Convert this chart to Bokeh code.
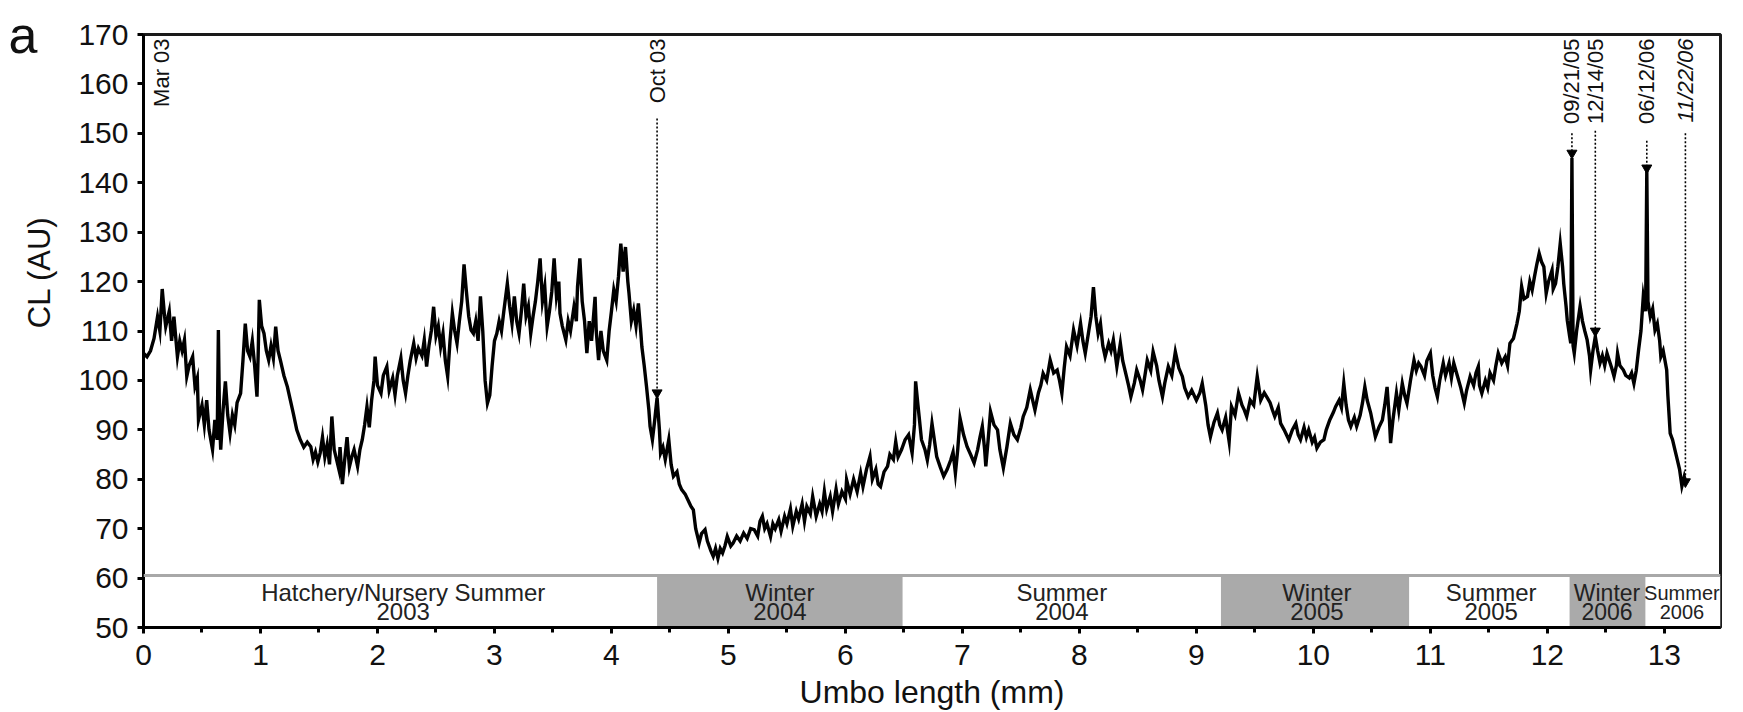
import math
from bokeh.plotting import figure
from bokeh.models import (Range1d, SingleIntervalTicker, FixedTicker, LinearAxis,
                          ColumnDataSource, Span)
from bokeh.core.properties import value
from bokeh.embed import file_html
from bokeh.resources import INLINE

FONT = "Liberation Sans"

# ---------------- data ----------------
umbo_mm = [
    0.00, 0.03, 0.06, 0.09, 0.12, 0.14, 0.16, 0.18, 0.19, 0.22,
    0.24, 0.26, 0.29, 0.31, 0.33, 0.35, 0.37, 0.39, 0.42, 0.44,
    0.46, 0.47, 0.50, 0.52, 0.54, 0.56, 0.59, 0.61, 0.63, 0.64,
    0.65, 0.66, 0.68, 0.70, 0.72, 0.74, 0.76, 0.78, 0.80, 0.83,
    0.85, 0.87, 0.89, 0.91, 0.93, 0.95, 0.97, 0.98, 0.99, 1.01,
    1.03, 1.05, 1.07, 1.09, 1.11, 1.13, 1.15, 1.17, 1.20, 1.23,
    1.26, 1.28, 1.31, 1.34, 1.37, 1.40, 1.43, 1.45, 1.47, 1.49,
    1.51, 1.53, 1.55, 1.57, 1.59, 1.61, 1.63, 1.65, 1.67, 1.68,
    1.70, 1.72, 1.74, 1.76, 1.78, 1.80, 1.83, 1.85, 1.87, 1.89,
    1.91, 1.93, 1.95, 1.97, 1.98, 2.00, 2.03, 2.05, 2.08, 2.10,
    2.13, 2.15, 2.17, 2.20, 2.22, 2.24, 2.26, 2.28, 2.31, 2.33,
    2.35, 2.38, 2.40, 2.42, 2.44, 2.46, 2.48, 2.50, 2.52, 2.54,
    2.56, 2.58, 2.60, 2.62, 2.64, 2.66, 2.68, 2.70, 2.72, 2.74,
    2.76, 2.78, 2.80, 2.82, 2.84, 2.86, 2.88, 2.90, 2.92, 2.94,
    2.96, 2.98, 3.00, 3.02, 3.04, 3.06, 3.08, 3.11, 3.13, 3.15,
    3.17, 3.19, 3.21, 3.23, 3.25, 3.27, 3.29, 3.31, 3.33, 3.35,
    3.37, 3.39, 3.41, 3.43, 3.45, 3.47, 3.49, 3.51, 3.53, 3.55,
    3.56, 3.58, 3.61, 3.63, 3.65, 3.68, 3.70, 3.71, 3.73, 3.75,
    3.77, 3.79, 3.81, 3.83, 3.86, 3.87, 3.89, 3.91, 3.93, 3.96,
    3.98, 4.00, 4.02, 4.04, 4.06, 4.08, 4.10, 4.12, 4.14, 4.15,
    4.17, 4.19, 4.21, 4.23, 4.25, 4.26, 4.28, 4.30, 4.32, 4.33,
    4.35, 4.37, 4.39, 4.41, 4.42, 4.44, 4.46, 4.49, 4.51, 4.53,
    4.56, 4.58, 4.60, 4.63, 4.66, 4.68, 4.70, 4.72, 4.75, 4.77,
    4.80, 4.82, 4.85, 4.87, 4.89, 4.91, 4.93, 4.95, 4.97, 4.99,
    5.02, 5.04, 5.07, 5.10, 5.13, 5.16, 5.19, 5.22, 5.25, 5.27,
    5.29, 5.31, 5.33, 5.36, 5.38, 5.40, 5.43, 5.45, 5.48, 5.50,
    5.53, 5.55, 5.58, 5.60, 5.63, 5.65, 5.67, 5.70, 5.72, 5.75,
    5.78, 5.80, 5.82, 5.84, 5.87, 5.89, 5.92, 5.94, 5.97, 6.00,
    6.01, 6.04, 6.07, 6.10, 6.13, 6.15, 6.18, 6.21, 6.23, 6.26,
    6.28, 6.30, 6.33, 6.36, 6.38, 6.41, 6.43, 6.45, 6.48, 6.51,
    6.54, 6.57, 6.59, 6.60, 6.62, 6.63, 6.65, 6.68, 6.70, 6.72,
    6.74, 6.76, 6.78, 6.81, 6.84, 6.87, 6.90, 6.92, 6.94, 6.96,
    6.98, 7.01, 7.04, 7.07, 7.10, 7.13, 7.15, 7.17, 7.19, 7.20,
    7.22, 7.24, 7.27, 7.30, 7.32, 7.35, 7.38, 7.41, 7.44, 7.47,
    7.50, 7.52, 7.55, 7.58, 7.60, 7.62, 7.65, 7.67, 7.69, 7.72,
    7.75, 7.78, 7.81, 7.83, 7.85, 7.87, 7.89, 7.92, 7.95, 7.98,
    8.01, 8.03, 8.05, 8.08, 8.10, 8.12, 8.14, 8.16, 8.18, 8.20,
    8.22, 8.25, 8.27, 8.29, 8.32, 8.35, 8.37, 8.40, 8.42, 8.44,
    8.47, 8.49, 8.52, 8.54, 8.56, 8.58, 8.61, 8.63, 8.66, 8.68,
    8.71, 8.73, 8.76, 8.79, 8.82, 8.85, 8.88, 8.90, 8.93, 8.96,
    9.00, 9.03, 9.05, 9.08, 9.10, 9.12, 9.15, 9.18, 9.20, 9.22,
    9.25, 9.28, 9.30, 9.33, 9.36, 9.39, 9.41, 9.43, 9.46, 9.49,
    9.52, 9.55, 9.58, 9.60, 9.63, 9.65, 9.67, 9.70, 9.72, 9.75,
    9.77, 9.79, 9.82, 9.85, 9.87, 9.89, 9.92, 9.94, 9.96, 9.99,
    10.01, 10.03, 10.06, 10.09, 10.11, 10.14, 10.17, 10.19, 10.22, 10.24,
    10.26, 10.28, 10.30, 10.32, 10.35, 10.37, 10.40, 10.42, 10.44, 10.46,
    10.49, 10.51, 10.53, 10.56, 10.59, 10.61, 10.63, 10.65, 10.66, 10.68,
    10.71, 10.73, 10.76, 10.78, 10.80, 10.83, 10.86, 10.88, 10.90, 10.92,
    10.95, 10.97, 11.00, 11.02, 11.04, 11.06, 11.08, 11.11, 11.13, 11.16,
    11.18, 11.20, 11.23, 11.26, 11.29, 11.31, 11.34, 11.37, 11.39, 11.41,
    11.42, 11.44, 11.47, 11.49, 11.51, 11.54, 11.56, 11.58, 11.61, 11.64,
    11.66, 11.68, 11.71, 11.74, 11.76, 11.78, 11.80, 11.83, 11.85, 11.87,
    11.89, 11.91, 11.93, 11.95, 11.97, 11.99, 12.01, 12.04, 12.05, 12.07,
    12.09, 12.11, 12.13, 12.14, 12.16, 12.17, 12.19, 12.20, 12.21, 12.22,
    12.23, 12.25, 12.28, 12.30, 12.32, 12.34, 12.36, 12.37, 12.39, 12.41,
    12.43, 12.45, 12.47, 12.49, 12.51, 12.53, 12.55, 12.57, 12.59, 12.60,
    12.62, 12.65, 12.67, 12.70, 12.72, 12.74, 12.76, 12.78, 12.80, 12.82,
    12.84, 12.85, 12.86, 12.88, 12.90, 12.92, 12.94, 12.96, 12.97, 12.99,
    13.02, 13.03, 13.05, 13.07, 13.09, 13.11, 13.13, 13.15, 13.17, 13.18,
]

cl_au = [
    105.5, 104.8, 106.0, 108.5, 112.9, 110.0, 118.5, 113.0, 110.9, 114.0,
    108.0, 112.9, 104.8, 108.0, 106.0, 108.2, 100.8, 103.0, 104.8, 98.8,
    100.5, 92.0, 95.0, 91.0, 96.0, 90.0, 86.0, 92.0, 88.0, 110.2,
    92.0, 86.0, 94.0, 99.8, 93.0, 89.3, 93.0, 91.0, 95.5, 97.4,
    104.0, 111.5, 106.0, 104.8, 108.0, 103.0, 96.7, 105.0, 116.3, 111.0,
    109.5, 106.0, 104.1, 107.0, 104.5, 110.9, 106.0, 104.1, 101.0, 98.7,
    95.5, 93.4, 90.0, 88.0, 86.5, 87.5, 86.6, 84.0, 85.5, 83.5,
    85.3, 88.5, 84.5, 87.0, 83.0, 92.7, 86.0, 84.0, 82.0, 86.5,
    79.0, 84.0, 88.5, 82.5, 84.5, 86.0, 82.6, 86.0, 88.0, 91.0,
    94.7, 90.5, 96.0, 100.0, 104.8, 99.0, 97.4, 101.0, 102.8, 98.0,
    100.5, 97.1, 101.0, 104.5, 100.0, 97.4, 101.0, 104.0, 107.5, 104.5,
    106.5, 105.0, 108.2, 102.8, 107.0, 110.0, 114.9, 109.0, 111.0, 106.8,
    109.5, 104.0, 100.8, 108.0, 113.6, 110.0, 107.5, 112.0, 116.0, 123.5,
    118.0, 113.0, 110.2, 109.5, 112.0, 108.0, 117.0, 110.0, 100.0, 95.4,
    97.0, 103.0, 108.0, 109.5, 112.0, 110.0, 114.0, 119.6, 115.0, 111.5,
    117.0, 112.0, 109.5, 114.0, 119.6, 113.0, 115.0, 109.5, 113.0, 116.0,
    120.0, 124.7, 116.0, 119.0, 110.9, 114.0, 118.0, 124.7, 117.0, 120.0,
    113.6, 111.0, 108.2, 112.0, 110.0, 114.9, 112.0, 119.0, 124.7, 116.0,
    112.0, 105.5, 112.0, 108.0, 116.9, 110.0, 104.1, 110.0, 106.0, 104.1,
    110.0, 114.0, 118.3, 116.0, 121.0, 127.7, 122.0, 127.0, 120.0, 117.6,
    112.0, 114.2, 111.0, 115.6, 110.0, 106.8, 103.0, 98.7, 94.0, 90.7,
    88.0, 92.0, 96.5, 90.0, 85.3, 86.5, 84.0, 88.0, 83.0, 80.6,
    81.5, 79.0, 77.9, 77.0, 75.5, 74.5, 73.8, 70.0, 67.1, 69.0,
    69.8, 67.5, 65.5, 64.4, 66.0, 64.0, 66.0, 65.1, 66.5, 68.4,
    66.5, 67.1, 68.5, 67.5, 69.1, 68.0, 70.0, 69.8, 68.5, 71.5,
    72.5, 70.0, 71.0, 68.4, 71.0, 70.0, 71.8, 69.5, 72.5, 71.0,
    74.0, 70.5, 73.5, 72.0, 75.0, 71.5, 74.5, 73.0, 76.5, 72.5,
    75.0, 73.5, 77.5, 74.0, 76.5, 73.5, 78.0, 75.0, 77.5, 76.0,
    79.9, 77.0, 80.0, 77.5, 81.2, 78.5, 82.0, 84.6, 80.0, 82.0,
    79.0, 78.5, 81.5, 82.6, 85.0, 84.0, 87.6, 84.5, 86.0, 88.0,
    89.0, 85.3, 91.0, 99.8, 95.0, 92.7, 88.0, 86.0, 83.9, 87.0,
    91.3, 88.0, 84.6, 82.5, 80.6, 82.0, 83.9, 85.5, 81.2, 86.0,
    92.3, 89.0, 86.6, 85.0, 83.3, 86.0, 88.5, 90.7, 86.0, 82.6,
    88.0, 93.7, 91.0, 90.0, 86.0, 82.3, 86.5, 91.3, 89.0, 88.0,
    90.5, 92.7, 94.5, 98.1, 96.0, 94.0, 97.5, 99.0, 101.4, 100.0,
    104.1, 101.5, 102.1, 100.0, 97.4, 102.5, 106.8, 105.0, 110.2, 107.0,
    111.5, 108.0, 105.5, 110.0, 113.0, 118.9, 113.0, 109.5, 111.5, 107.0,
    104.8, 107.5, 106.0, 108.2, 102.8, 107.5, 104.0, 101.0, 99.0, 96.7,
    99.5, 102.1, 100.0, 98.1, 101.0, 104.1, 102.0, 105.8, 103.0, 100.0,
    96.7, 99.5, 102.8, 101.0, 105.8, 102.5, 100.8, 98.5, 96.7, 98.0,
    96.0, 97.5, 99.4, 95.0, 91.0, 88.6, 91.5, 93.4, 91.0, 90.0,
    92.5, 87.6, 94.7, 93.0, 97.4, 95.0, 94.0, 92.7, 96.0, 95.0,
    100.8, 96.0, 97.5, 96.7, 95.5, 94.0, 92.7, 94.5, 91.3, 90.0,
    89.0, 88.0, 90.0, 91.3, 89.0, 88.0, 90.5, 88.5, 90.0, 87.5,
    88.5, 86.3, 87.5, 88.0, 90.0, 92.0, 93.5, 94.7, 96.0, 94.5,
    99.4, 95.0, 92.0, 90.7, 92.5, 90.7, 93.0, 95.5, 98.7, 96.0,
    93.4, 91.0, 88.6, 90.5, 92.0, 95.0, 98.7, 92.0, 87.3, 92.0,
    97.4, 94.0, 99.4, 97.0, 95.4, 100.0, 104.1, 102.0, 103.5, 102.8,
    101.0, 104.0, 105.5, 101.0, 98.5, 96.7, 100.0, 103.5, 101.0, 103.5,
    100.5, 103.5, 101.0, 98.5, 95.4, 98.0, 100.8, 99.0, 101.5, 102.8,
    99.0, 97.4, 100.0, 98.5, 101.5, 100.0, 103.0, 105.5, 103.5, 104.8,
    103.0, 107.5, 108.5, 111.5, 114.0, 119.0, 116.5, 117.0, 120.0, 118.3,
    121.0, 123.5, 125.7, 124.0, 123.0, 117.6, 120.0, 122.3, 118.5, 119.6,
    123.0, 127.7, 123.0, 119.6, 115.0, 112.2, 109.0, 107.5, 145.0, 107.0,
    105.5, 110.0, 115.0, 112.0, 110.0, 108.2, 105.0, 102.1, 106.0, 108.9,
    106.0, 103.5, 105.0, 103.0, 105.5, 104.0, 102.5, 100.8, 103.0, 105.5,
    103.0, 102.1, 101.0, 100.5, 101.5, 99.4, 102.0, 106.2, 110.0, 117.0,
    114.0, 142.5, 116.0, 112.9, 114.5, 110.2, 111.5, 108.0, 104.8, 106.0,
    102.1, 97.0, 89.3, 88.0, 86.0, 84.0, 82.0, 78.6, 80.5, 79.5,
]
assert len(umbo_mm) == len(cl_au)

# season bands
season_names = ["Hatchery/Nursery Summer", "Winter", "Summer", "Winter",
                "Summer", "Winter", "Summer"]
season_years = ["2003", "2004", "2004", "2005", "2005", "2006", "2006"]
season_start = [0.0, 4.39, 6.49, 9.21, 10.82, 12.19, 12.84]
season_end = [4.39, 6.49, 9.21, 10.82, 12.19, 12.84, 13.48]
season_label_x = [2.22, 5.44, 7.85, 10.03, 11.52, 12.51, 13.15]
season_label_size = ["24px", "24px", "24px", "24px", "24px", "23px", "20px"]
season_is_winter = [False, True, False, True, False, True, False]

# dated events
event_labels = ["Mar 03", "Oct 03", "09/21/05", "12/14/05", "06/12/06", "11/22/06"]
event_x = [0.15, 4.39, 12.21, 12.41, 12.85, 13.18]
event_style = ["normal", "normal", "normal", "normal", "normal", "italic"]
arrow_x = [4.39, 12.21, 12.41, 12.85, 13.18]
arrow_y = [97.5, 146.0, 110.0, 143.0, 79.5]
arrow_line_top = [153.0, 150.0, 150.5, 148.5, 150.0]

# titles
x_title = "Umbo length (mm)"
y_title = "CL (AU)"
y_title_at = 121.9
panel_letter = "a"

# ---------------- figure ----------------
p = figure(width=1743, height=712,
           x_range=Range1d(0, 13.48), y_range=Range1d(50, 170),
           output_backend="svg", toolbar_location=None,
           min_border_left=143, min_border_right=23,
           min_border_top=34, min_border_bottom=84)
p.grid.visible = False
p.background_fill_color = "white"
p.border_fill_color = "white"
p.outline_line_color = "#1a1a1a"
p.outline_line_width = 3

p.xaxis.ticker = SingleIntervalTicker(interval=1, num_minor_ticks=2)
p.yaxis.ticker = SingleIntervalTicker(interval=10, num_minor_ticks=0)
for ax in (p.xaxis[0], p.yaxis[0]):
    ax.axis_line_width = 3
    ax.axis_line_color = "black"
    ax.major_tick_line_width = 3
    ax.minor_tick_line_width = 3
    ax.major_tick_in = 0
    ax.major_tick_out = 6
    ax.minor_tick_in = 0
    ax.minor_tick_out = 5
    ax.major_label_text_font = FONT
    ax.major_label_text_font_size = "30px"
    ax.major_label_text_color = "#111111"
p.xaxis.major_label_standoff = 11
p.yaxis.major_label_standoff = 9
p.xaxis.axis_label = x_title
p.xaxis.axis_label_text_font = FONT
p.xaxis.axis_label_text_font_size = "32px"
p.xaxis.axis_label_text_font_style = "normal"
p.xaxis.axis_label_text_color = "#111111"
p.xaxis.axis_label_standoff = 6


def label_axis(tick, text, size, standoff, orientation="horizontal"):
    ax = LinearAxis(ticker=FixedTicker(ticks=[tick]),
                    major_label_overrides={tick: text},
                    axis_line_color=None, major_tick_line_color=None,
                    minor_tick_line_color=None,
                    major_tick_in=0, major_tick_out=0,
                    minor_tick_in=0, minor_tick_out=0,
                    major_label_standoff=standoff,
                    major_label_orientation=orientation,
                    major_label_text_font=FONT,
                    major_label_text_font_size=size,
                    major_label_text_color="#111111")
    p.add_layout(ax, "left")


label_axis(y_title_at, y_title, "31px", 18, "vertical")
label_axis(170, panel_letter, "52px", -18)

# season band
band_src = ColumnDataSource(dict(
    left=season_start, right=season_end,
    color=["#aaaaaa" if w else "#ffffff" for w in season_is_winter]))
p.quad(left="left", right="right", bottom=50.0, top=60.4, source=band_src,
       fill_color="color", line_color=None)
p.add_layout(Span(location=60.5, dimension="width", line_color="#a8a8a8",
                  line_width=3))
lab_src = ColumnDataSource(dict(x=season_label_x, name=season_names,
                                year=season_years, size=season_label_size,
                                y1=[57.0] * len(season_names),
                                y2=[53.2] * len(season_names)))
for col, ycol in (("name", "y1"), ("year", "y2")):
    p.text(x="x", y=ycol, text=col, source=lab_src,
           text_align="center", text_baseline="middle",
           text_font=value(FONT), text_font_size="size",
           text_color="#222222")

# main trace
p.line(umbo_mm, cl_au, line_color="black", line_width=3.4, line_join="miter")

# event markers
p.segment(x0=arrow_x, y0=arrow_line_top, x1=arrow_x, y1=arrow_y,
          line_color="black", line_width=1.6, line_dash="2 2")
p.scatter(arrow_x, arrow_y, marker="inverted_triangle", size=10,
          color="black")
ev_src = ColumnDataSource(dict(x=event_x, y=[169.2] * len(event_x),
                               text=event_labels, style=event_style))
p.text(x="x", y="y", text="text", source=ev_src, angle=math.pi / 2,
       text_align="right", text_baseline="middle",
       text_font=value(FONT), text_font_size="22px",
       text_font_style="style", text_color="#111111")

open("out.html", "w").write(file_html(p, INLINE))
